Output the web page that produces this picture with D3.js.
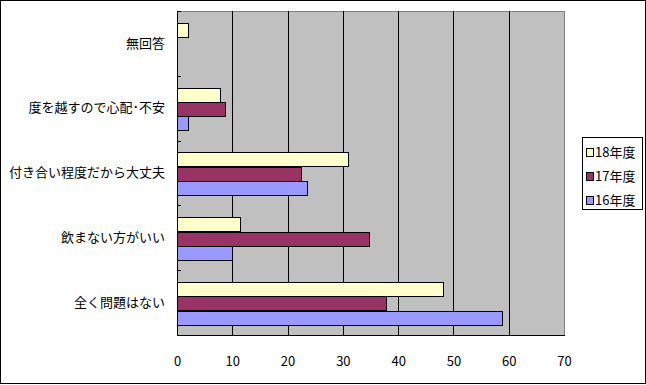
<!DOCTYPE html>
<html>
<head>
<meta charset="utf-8">
<script src="https://cdn.jsdelivr.net/npm/d3@7"></script>
<style>
  body { margin: 0; background: #fff; }
  text { font-family: "Noto Sans CJK JP", sans-serif; fill: #000; }
</style>
</head>
<body>
<div id="chart"></div>
<script>
// 回答カテゴリ（上から順）
const categories = ["無回答", "度を越すので心配･不安", "付き合い程度だから大丈夫", "飲まない方がいい", "全く問題はない"];
// 系列（各グループ内で上から）
const series = ["18年度", "17年度", "16年度"];
const values18 = [1.9, 7.7, 30.9, 11.4, 48.2];
const values17 = [0, 8.6, 22.5, 34.7, 37.8];
const values16 = [0, 2.0, 23.6, 9.9, 58.8];
const colors = ["#FFFFCC", "#993366", "#9999FF"];
const xTicks = [0, 10, 20, 30, 40, 50, 60, 70];

const width = 646, height = 385;
const plot = { left: 177, right: 564, top: 11, bottom: 335 };

const svg = d3.select("#chart").append("svg")
    .attr("width", width)
    .attr("height", height);

// 外枠
svg.append("rect")
    .attr("x", 0.5).attr("y", 0.5)
    .attr("width", width - 1).attr("height", height - 2)
    .attr("fill", "#fff").attr("stroke", "#000");

const x = d3.scaleLinear().domain([0, 70]).range([plot.left, plot.right]);
const y = d3.scaleBand().domain(categories).range([plot.top, plot.bottom]);
const y1 = d3.scaleBand().domain(series).range([0, y.bandwidth()]).paddingOuter(0.75).align(0.55);

const allValues = [values18, values17, values16];
const rows = [];
categories.forEach((c, i) => {
    series.forEach((s, j) => rows.push({ cat: c, s: s, v: allValues[j][i], color: colors[j] }));
});

// プロットエリア背景
svg.append("rect")
    .attr("x", plot.left + 0.5).attr("y", plot.top + 0.5)
    .attr("width", plot.right - plot.left).attr("height", plot.bottom - plot.top)
    .attr("fill", "#C0C0C0").attr("stroke", "#808080");

// 目盛線
svg.append("g")
    .selectAll("line")
    .data(xTicks.slice(1, -1))
    .join("line")
    .attr("x1", d => Math.round(x(d)) + 0.5)
    .attr("x2", d => Math.round(x(d)) + 0.5)
    .attr("y1", plot.top)
    .attr("y2", plot.bottom)
    .attr("stroke", "#000");

// 棒
svg.append("g")
    .selectAll("rect")
    .data(rows.filter(d => d.v > 0))
    .join("rect")
    .attr("x", x(0) + 0.5)
    .attr("y", d => Math.round(y(d.cat) + y1(d.s)) + 0.5)
    .attr("width", d => Math.round(x(d.v) - x(0)))
    .attr("height", Math.round(y1.bandwidth()))
    .attr("fill", d => d.color)
    .attr("stroke", "#000");

// 軸線
svg.append("line")
    .attr("x1", plot.left + 0.5).attr("x2", plot.left + 0.5)
    .attr("y1", plot.top).attr("y2", plot.bottom + 1)
    .attr("stroke", "#000");
svg.append("line")
    .attr("x1", plot.left).attr("x2", plot.right + 1)
    .attr("y1", plot.bottom + 0.5).attr("y2", plot.bottom + 0.5)
    .attr("stroke", "#000");

// カテゴリ境界の目盛
svg.append("g")
    .selectAll("line")
    .data(d3.range(categories.length + 1))
    .join("line")
    .attr("x1", plot.left)
    .attr("x2", plot.left + 4)
    .attr("y1", i => Math.round(plot.top + i * y.step()) + 0.5)
    .attr("y2", i => Math.round(plot.top + i * y.step()) + 0.5)
    .attr("stroke", "#000");

// X軸ラベル
const xAxis = svg.append("g")
    .attr("transform", `translate(0,${plot.bottom})`)
    .call(d3.axisBottom(x).tickValues(xTicks).tickSize(0).tickPadding(22));
xAxis.select(".domain").remove();
xAxis.selectAll("text").style("font-size", "13px");

// Y軸ラベル
const yAxis = svg.append("g")
    .attr("transform", `translate(${plot.left},0)`)
    .call(d3.axisLeft(y).tickSize(0).tickPadding(12));
yAxis.select(".domain").remove();
yAxis.selectAll("text").style("font-size", "13px");

// 凡例
const legend = svg.append("g").attr("transform", "translate(582,137)");
legend.append("rect")
    .attr("x", 0.5).attr("y", 0.5)
    .attr("width", 60).attr("height", 72)
    .attr("fill", "#fff").attr("stroke", "#000");
const item = legend.selectAll("g.item")
    .data(series)
    .join("g")
    .attr("class", "item")
    .attr("transform", (d, i) => `translate(0,${15 + i * 24})`);
item.append("rect")
    .attr("x", 4.5).attr("y", -3.5)
    .attr("width", 7).attr("height", 8)
    .attr("fill", (d, i) => colors[i])
    .attr("stroke", "#000");
item.append("text")
    .attr("x", 13)
    .attr("y", 0)
    .attr("dy", "0.35em")
    .style("font-size", "13px")
    .text(d => d);
</script>
</body>
</html>
